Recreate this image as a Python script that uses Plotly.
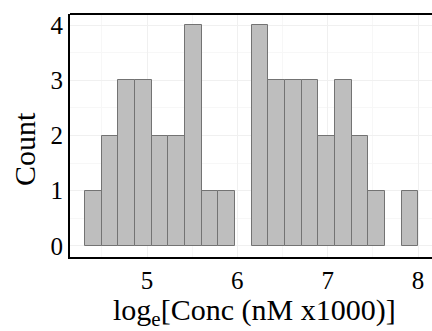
import plotly.graph_objects as go

bin_centers = [4.405, 4.590, 4.774, 4.959, 5.143, 5.328, 5.512, 5.697, 5.881,
               6.250, 6.435, 6.619, 6.804, 6.988, 7.173, 7.357, 7.542, 7.911]
counts = [1, 2, 3, 3, 2, 2, 4, 1, 1,
          4, 3, 3, 3, 2, 3, 2, 1, 1]
bin_width = 0.1845
x_ticks = [5, 6, 7, 8]
y_ticks = [0, 1, 2, 3, 4]

FONT = "Liberation Serif, Times New Roman, serif"

fig = go.Figure(go.Bar(
    x=bin_centers, y=counts, width=bin_width,
    marker=dict(color="#bebebe", line=dict(color="#737373", width=1)),
))

W, H = 432, 331
L, R, T, B = 70, 0, 14, 74
pw, ph = W - L - R, H - T - B

fig.update_layout(
    width=W, height=H,
    margin=dict(l=L, r=R, t=T, b=B),
    plot_bgcolor="white", paper_bgcolor="white",
    bargap=0, showlegend=False,
    font=dict(family=FONT, color="black"),
    shapes=[dict(type="line", xref="paper", yref="paper", x0=0, x1=1, y0=1, y1=1,
                 line=dict(color="black", width=2))],
    annotations=[
        dict(text="log<sub>e</sub>[Conc (nM x1000)]", xref="paper", yref="paper",
             x=(254 - L) / pw, y=(H - B - 312) / ph, xanchor="center", yanchor="middle",
             showarrow=False, font=dict(size=30)),
        dict(text="Count", xref="paper", yref="paper", textangle=-90,
             x=(24 - L) / pw, y=(H - B - 149) / ph, xanchor="center", yanchor="middle",
             showarrow=False, font=dict(size=30)),
    ],
)
fig.update_xaxes(
    range=[4.1476, 8.155], tickvals=x_ticks, ticks="", showline=True, mirror=False,
    linecolor="black", linewidth=2, showgrid=True, gridcolor="#f0f0f0", gridwidth=1,
    minor=dict(dtick=0.5, showgrid=True, gridcolor="#f7f7f7"),
    tickfont=dict(size=25), zeroline=False,
)
fig.update_yaxes(
    range=[-0.2, 4.2], tickvals=y_ticks, ticks="", showline=True, mirror=False,
    linecolor="black", linewidth=2, showgrid=True, gridcolor="#f0f0f0", gridwidth=1,
    minor=dict(dtick=0.5, showgrid=True, gridcolor="#f7f7f7"),
    tickfont=dict(size=25), zeroline=False,
)
fig.write_html("out.html")
